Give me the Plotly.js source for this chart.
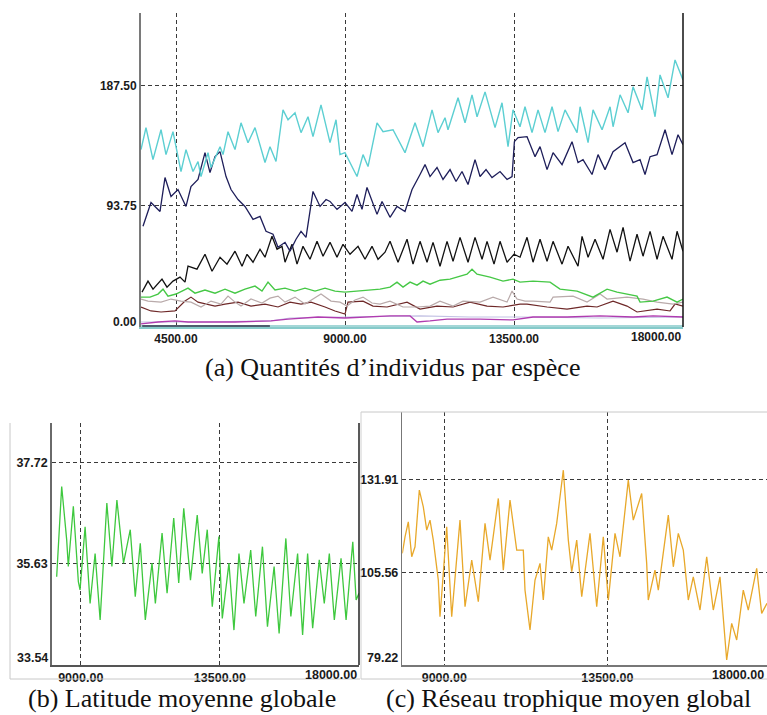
<!DOCTYPE html>
<html>
<head>
<meta charset="utf-8">
<script src="https://cdn.plot.ly/plotly-3.0.1.min.js"></script>
<style>
html,body{margin:0;padding:0;background:#fff;overflow:hidden;}
#chart{width:767px;height:715px;}
</style>
</head>
<body>
<div id="chart"></div>
<script>
// ---------- Panel (a) : Quantités d'individus par espèce ----------
const aCyanX = [3568,3701,3887,4101,4234,4420,4633,4766,4953,5086,5166,5352,5432,5672,5752,5885,6071,6231,6417,6604,6870,7003,7163,7349,7483,7669,7829,8015,8148,8361,8601,8761,8867,9000,9320,9480,9613,9853,10013,10279,10598,10865,11078,11317,11477,11663,11743,12010,12196,12382,12516,12729,12995,13181,13341,13474,13660,13793,13980,14140,14326,14513,14673,14859,15179,15259,15472,15605,15845,16058,16138,16324,16537,16670,16910,17043,17256,17389,17602,17788,18000];
const aCyanY = [137.5,154.6,129.7,153.0,133.6,151.5,120.4,137.5,120.4,128.2,116.5,135.1,123.5,139.8,133.6,151.5,137.5,158.4,142.9,154.6,127.4,139.8,128.2,168.5,160.8,166.2,150.7,163.1,147.6,172.4,142.9,160.8,133.6,135.1,116.5,133.6,124.3,158.4,151.5,153.0,135.1,158.4,139.8,168.5,150.7,162.3,153.0,177.9,158.4,180.2,163.1,182.5,154.6,174.0,139.8,168.5,155.3,170.9,150.7,168.5,150.7,170.9,151.5,168.5,150.7,170.9,142.9,168.5,153.0,170.9,155.3,180.2,166.2,186.4,168.5,194.2,163.1,195.7,177.9,207.4,191.8];

const aNavyX = [3621,3834,3967,4074,4207,4367,4553,4766,4899,5086,5272,5405,5539,5672,5832,5965,6151,6337,6551,6737,6897,7083,7216,7403,7536,7696,7829,7962,8148,8335,8495,8601,8787,9000,9187,9320,9453,9586,9853,9986,10199,10385,10598,10785,10998,11131,11264,11450,11610,11797,11956,12116,12276,12462,12596,12755,12915,13128,13315,13448,13510,13607,13847,14060,14193,14380,14540,14779,15045,15205,15338,15578,15738,15924,16137,16457,16670,16856,16989,17123,17309,17522,17708,17868,18000];
const aNavyY = [77.7,96.3,92.4,89.3,115.7,101.0,106.4,93.2,108.7,114.2,135.1,119.6,132.0,135.9,116.5,106.4,98.6,93.2,83.1,85.4,73.8,71.5,61.4,65.2,58.3,67.6,73.8,69.1,104.9,93.2,98.6,97.1,90.9,96.3,89.3,102.5,90.9,108.0,87.0,97.1,84.7,93.2,89.3,106.4,118.1,125.8,116.5,123.5,114.2,121.9,112.6,120.4,110.3,129.7,116.5,121.9,115.7,120.4,114.2,116.5,143.7,146.8,147.6,132.0,139.8,121.9,135.1,125.8,143.7,127.4,129.7,118.1,133.6,121.9,135.9,142.9,127.4,129.7,118.1,132.0,133.6,153.0,133.6,149.1,141.4];

const aBlackX = [3595,3754,3888,4127,4260,4420,4607,4740,4820,4926,5059,5272,5459,5672,5858,6071,6258,6391,6551,6737,6870,7056,7190,7323,7403,7589,7722,7882,8068,8255,8415,8601,8787,8947,9134,9347,9533,9719,9879,10066,10199,10412,10652,10811,10998,11184,11344,11530,11717,11877,12063,12276,12462,12649,12782,12968,13128,13315,13500,13661,13847,14007,14193,14380,14540,14779,14939,15205,15312,15472,15658,15871,16057,16244,16404,16590,16776,16936,17123,17309,17469,17708,17842,18000];
const aBlackY = [26.4,35.0,28.7,36.5,30.3,35.0,38.1,34.2,46.6,45.8,44.3,55.9,42.7,53.6,48.2,58.3,46.6,55.9,49.7,59.8,53.6,69.9,59.8,62.1,49.7,63.7,48.2,62.1,52.0,66.0,54.4,65.2,53.6,63.7,55.9,62.1,52.0,62.1,52.0,57.5,66.0,49.7,67.6,48.2,66.0,49.7,65.2,46.6,66.0,50.5,69.1,49.7,69.1,52.0,66.0,48.2,66.0,49.7,55.9,53.6,69.1,49.7,67.6,50.5,66.0,48.2,62.1,46.6,69.9,53.6,67.6,52.0,75.3,57.5,76.9,50.5,71.5,54.4,73.8,52.0,69.9,52.0,73.8,58.3];

const aGreenX = [3568,3808,4021,4154,4287,4500,4660,4820,5006,5272,5539,5805,6071,6337,6604,6790,6950,7136,7403,7669,7935,8202,8468,8734,9000,9267,9666,9933,10199,10385,10545,10732,10918,11078,11264,11530,11797,12010,12249,12382,12516,12862,13208,13474,13660,14007,14460,14726,15179,15605,15978,16244,16776,16856,17203,17575,17842,18000];
const aGreenY = [22.5,22.5,24.9,28.7,23.3,24.9,27.2,29.5,25.6,28.0,25.6,28.7,25.6,28.7,31.1,27.2,34.2,28.0,29.5,27.2,29.5,27.2,29.5,27.2,26.4,27.2,28.0,28.7,30.3,34.2,30.3,34.2,31.8,35.0,32.6,35.7,36.5,38.1,40.4,44.3,40.4,38.1,35.0,36.5,34.2,35.0,34.2,28.7,27.2,22.5,28.7,26.4,23.3,18.6,19.4,22.5,18.6,21.0];

const aGrayX = [3568,3754,4101,4367,4633,4899,5166,5432,5698,5885,6071,6231,6497,6790,7003,7216,7403,7669,7935,8148,8361,8628,8867,9054,9267,9480,9719,9933,10199,10545,10918,11264,11530,11877,12143,12596,12942,13315,13448,13581,13794,14007,14460,14540,15072,15445,15791,15978,16510,16936,17309,17735,18000];
const aGrayY = [21.0,19.4,18.6,21.0,19.4,18.6,14.8,19.4,17.1,23.3,18.6,15.5,21.0,17.9,21.7,23.3,18.6,22.5,17.1,21.0,24.9,19.4,18.6,15.5,20.2,22.5,17.9,17.1,19.4,14.8,14.8,15.5,19.4,15.5,19.4,18.6,22.5,18.6,27.2,21.0,19.4,19.4,18.6,22.5,23.3,18.6,24.9,21.0,22.5,21.0,18.6,17.1,18.6];

const aBrownX = [3568,3834,4101,4473,4740,4899,5086,5539,5805,6151,6497,6870,7216,7536,7829,8095,8468,8734,9000,9080,9480,9746,10119,10652,10998,11450,11877,12329,12782,13208,13660,13847,14380,14912,15445,15711,16137,16510,16776,17309,17655,17788,18000];
const aBrownY = [14.8,11.7,10.9,11.7,19.4,22.5,18.6,15.5,17.1,18.6,15.5,17.1,14.8,18.6,17.1,18.6,14.8,11.7,9.3,18.6,19.4,15.5,14.8,18.6,13.2,15.5,14.8,18.6,15.5,14.8,17.1,17.1,14.8,13.2,15.5,14.8,19.4,15.5,10.9,13.2,11.7,17.1,15.5];

const aPurpleX = [3568,4021,4473,4820,6071,7030,7483,8281,9000,9480,10199,10732,10918,11264,11717,12596,13474,14007,14912,15791,16670,17203,18000];
const aPurpleY = [1.6,3.1,3.9,3.1,3.1,3.9,5.4,7.0,6.2,7.0,7.8,7.8,3.1,3.9,5.4,5.4,4.7,7.0,7.0,7.8,7.0,7.8,7.0];

const aLavenderX = [3568,5272,7003,7536,9054,10998,12329,13660,15791,18000];
const aLavenderY = [3.1,3.1,3.9,6.2,7.0,7.8,7.0,7.0,6.2,7.0];

const aSlateX = [3600,7000];
const aSlateY = [0,0];
const aTealX = [3568,18000];
const aTealY = [0,0];

const aXTicks = [4500,9000,13500];
const aXTickText = ['4500.00','9000.00','13500.00'];
const aYTicks = [93.75,187.5];
const aYTickText = ['93.75','187.50'];

// ---------- Panel (b) : Latitude moyenne globale ----------
const bX = [8221,8383,8545,8597,8760,8922,8977,9140,9302,9464,9627,9844,10007,10169,10383,10601,10763,10925,11088,11305,11413,11630,11792,12007,12169,12331,12549,12767,12929,13091,13254,13468,13578,13793,13955,14117,14280,14497,14660,14877,15039,15254,15416,15634,15796,16014,16176,16338,16501,16715,16877,17040,17202,17419,17582,17799,17907,18000];
const bY = [35.36,37.22,36.12,35.57,36.81,35.26,35.09,36.39,34.81,35.84,34.47,36.88,35.57,36.94,35.64,36.33,34.95,36.05,34.47,35.64,34.81,36.26,35.02,36.57,35.23,36.77,35.29,36.63,35.43,36.33,34.74,36.19,34.50,35.64,34.26,35.84,34.81,35.91,34.54,35.98,34.33,35.57,34.19,36.15,34.54,35.84,34.16,35.84,34.30,35.71,34.81,35.84,34.47,35.74,34.47,36.08,34.88,35.02];
const bXTicks = [9000,13500];
const bXTickText = ['9000.00','13500.00'];
const bYTicks = [35.63,37.72];
const bYTickText = ['35.63','37.72'];

// ---------- Panel (c) : Réseau trophique moyen global ----------
const cX = [7840,7915,8006,8100,8191,8310,8420,8514,8605,8696,8834,8881,8972,9066,9204,9295,9433,9572,9757,9939,10124,10262,10491,10629,10814,10999,11181,11228,11366,11504,11642,11733,11871,11965,12103,12286,12424,12518,12656,12794,13023,13208,13390,13528,13713,13851,14080,14218,14450,14588,14632,14817,14909,15185,15323,15461,15599,15737,15875,16060,16245,16427,16612,16797,16935,17073,17255,17393,17625,17763,17910];
const cY = [110.98,115.70,119.96,110.01,112.85,128.97,124.22,117.60,120.44,114.76,103.39,92.95,105.29,118.54,92.95,104.32,120.44,95.79,109.07,97.22,119.51,109.07,126.61,106.23,126.13,111.91,111.91,100.54,89.17,103.39,108.13,97.70,115.70,111.91,119.51,134.66,114.76,105.75,114.76,98.64,116.66,95.79,115.70,97.70,116.66,110.01,131.82,120.44,128.03,108.13,97.70,106.23,100.54,121.87,107.17,116.66,111.91,97.70,104.32,94.86,110.01,94.86,104.32,80.64,91.08,86.33,100.54,94.86,106.71,93.92,96.76];
const cXTicks = [9000,13500];
const cXTickText = ['9000.00','13500.00'];
const cYTicks = [105.56,131.91];
const cYTickText = ['105.56','131.91'];

const captions = ['(a) Quantités d\u2019individus par espèce','(b) Latitude moyenne globale','(c) Réseau trophique moyen global'];

// ---------- layout helpers (pixel -> paper fraction) ----------
const W = 767, H = 715;
const fx = p => p / W;
const fy = p => 1 - p / H;

const tickFont = {family:'Liberation Sans, Arial, sans-serif', size:12, color:'#1a1a1a', weight:'bold'};
const tickFontS = {family:'Liberation Sans, Arial, sans-serif', size:12.5, color:'#1a1a1a', weight:'bold'};
const capFont = {family:'Liberation Serif, Times New Roman, serif', size:26, color:'#111'};
const GRID = {showgrid:true, gridcolor:'#3a3a3a', gridwidth:1, griddash:'4px,3px', zeroline:false, ticks:'', fixedrange:true};

function ln(x, y, color, width, xa, ya, name) {
  return {x:x, y:y, type:'scatter', mode:'lines', name:name, xaxis:xa, yaxis:ya,
          line:{color:color, width:width}, hoverinfo:'skip', showlegend:false};
}

const traces = [
  ln(aTealX, aTealY, '#86caca', 1.5, 'x', 'y', 'espèce 9'),
  ln(aSlateX, aSlateY, '#4d5d6d', 2, 'x', 'y', 'espèce 8'),
  ln(aLavenderX, aLavenderY, '#c4c2e4', 1.2, 'x', 'y', 'espèce 7'),
  ln(aPurpleX, aPurpleY, '#b03cb0', 1.3, 'x', 'y', 'espèce 6'),
  ln(aBrownX, aBrownY, '#6e2828', 1.2, 'x', 'y', 'espèce 5'),
  ln(aGrayX, aGrayY, '#b9aaaa', 1.2, 'x', 'y', 'espèce 4'),
  ln(aGreenX, aGreenY, '#46c846', 1.4, 'x', 'y', 'espèce 3'),
  ln(aBlackX, aBlackY, '#111111', 1.3, 'x', 'y', 'espèce 2'),
  ln(aNavyX, aNavyY, '#1e1e5a', 1.3, 'x', 'y', 'espèce 1'),
  ln(aCyanX, aCyanY, '#5ccfd2', 1.4, 'x', 'y', 'espèce 0'),
  ln(bX, bY, '#3ec83e', 1.3, 'x2', 'y2', 'latitude'),
  ln(cX, cY, '#e8a82a', 1.3, 'x3', 'y3', 'réseau trophique')
];

const layout = {
  width: W, height: H,
  margin: {l:0, r:0, t:0, b:0},
  paper_bgcolor: '#fff', plot_bgcolor: '#fff',
  showlegend: false,
  xaxis: Object.assign({}, GRID, {
    domain:[fx(141), fx(683)], range:[3568, 18000], anchor:'y',
    tickvals:aXTicks, ticktext:aXTickText, tickfont:tickFont,
    showline:true, linecolor:'#86caca', linewidth:1.5
  }),
  yaxis: Object.assign({}, GRID, {
    domain:[fy(327), fy(13)], range:[-0.8, 244], anchor:'x',
    tickvals:aYTicks, ticktext:aYTickText, tickfont:tickFont,
    showline:true, linecolor:'#7a7a7a', linewidth:2
  }),
  xaxis2: Object.assign({}, GRID, {
    domain:[fx(51.7), fx(359)], range:[8060, 18000], anchor:'y2',
    tickvals:bXTicks, ticktext:bXTickText, tickfont:tickFontS,
    showline:true, linecolor:'#555', linewidth:1.5
  }),
  yaxis2: Object.assign({}, GRID, {
    domain:[fy(665), fy(423)], range:[33.54, 38.53], anchor:'x2',
    tickvals:bYTicks, ticktext:bYTickText, tickfont:tickFontS,
    showline:true, linecolor:'#6a6a6a', linewidth:1.5
  }),
  xaxis3: Object.assign({}, GRID, {
    domain:[fx(402.3), 1], range:[7840, 17910], anchor:'y3',
    tickvals:cXTicks, ticktext:cXTickText, tickfont:tickFontS,
    showline:true, linecolor:'#777', linewidth:1.5
  }),
  yaxis3: Object.assign({}, GRID, {
    domain:[fy(665), fy(411.7)], range:[79.22, 151.3], anchor:'x3',
    tickvals:cYTicks, ticktext:cYTickText, tickfont:tickFontS,
    showline:true, linecolor:'#777', linewidth:1.5
  }),
  shapes: [
    {type:'line', xref:'x domain', yref:'y domain', x0:1, x1:1, y0:0, y1:1, line:{color:'#111', width:1.5}},
    {type:'line', xref:'x2 domain', yref:'y2 domain', x0:1, x1:1, y0:0, y1:1, line:{color:'#222', width:1.5}},
    {type:'line', xref:'paper', yref:'paper', x0:fx(10), x1:fx(10), y0:fy(679), y1:fy(423), line:{color:'#c8c8c8', width:1}},
    {type:'line', xref:'paper', yref:'paper', x0:fx(10), x1:fx(360), y0:fy(679), y1:fy(679), line:{color:'#c8c8c8', width:1}},
    {type:'line', xref:'paper', yref:'paper', x0:fx(361), x1:1, y0:fy(412), y1:fy(412), line:{color:'#c8c8c8', width:1}},
    {type:'line', xref:'paper', yref:'paper', x0:fx(361), x1:fx(361), y0:fy(679), y1:fy(412), line:{color:'#d0d0d0', width:1}},
    {type:'line', xref:'paper', yref:'paper', x0:fx(361), x1:1, y0:fy(679), y1:fy(679), line:{color:'#c8c8c8', width:1}}
  ],
  annotations: [
    {text:'0.00', xref:'x domain', yref:'y domain', x:0, y:0, xanchor:'right', yanchor:'middle', xshift:-2, yshift:5, showarrow:false, font:tickFont},
    {text:'18000.00', xref:'x', yref:'y domain', x:18000, y:0, xanchor:'right', yanchor:'top', yshift:-1, showarrow:false, font:tickFont},
    {text:'33.54', xref:'x2 domain', yref:'y2 domain', x:0, y:0, xanchor:'right', yanchor:'middle', xshift:-2, yshift:7, showarrow:false, font:tickFontS},
    {text:'18000.00', xref:'x2', yref:'y2 domain', x:18000, y:0, xanchor:'right', yanchor:'top', yshift:-1, showarrow:false, font:tickFontS},
    {text:'79.22', xref:'x3 domain', yref:'y3 domain', x:0, y:0, xanchor:'right', yanchor:'middle', xshift:-2, yshift:7, showarrow:false, font:tickFontS},
    {text:'18000.00', xref:'paper', yref:'y3 domain', x:fx(766), y:0, xanchor:'right', yanchor:'top', yshift:-1, showarrow:false, font:tickFontS},
    {text:captions[0], xref:'paper', yref:'paper', x:fx(392), y:fy(368), xanchor:'center', yanchor:'middle', showarrow:false, font:capFont},
    {text:captions[1], xref:'paper', yref:'paper', x:fx(182), y:fy(698), xanchor:'center', yanchor:'middle', showarrow:false, font:capFont},
    {text:captions[2], xref:'paper', yref:'paper', x:fx(568), y:fy(698), xanchor:'center', yanchor:'middle', showarrow:false, font:capFont}
  ]
};

Plotly.newPlot('chart', traces, layout, {staticPlot:true, displayModeBar:false});
</script>
</body>
</html>
